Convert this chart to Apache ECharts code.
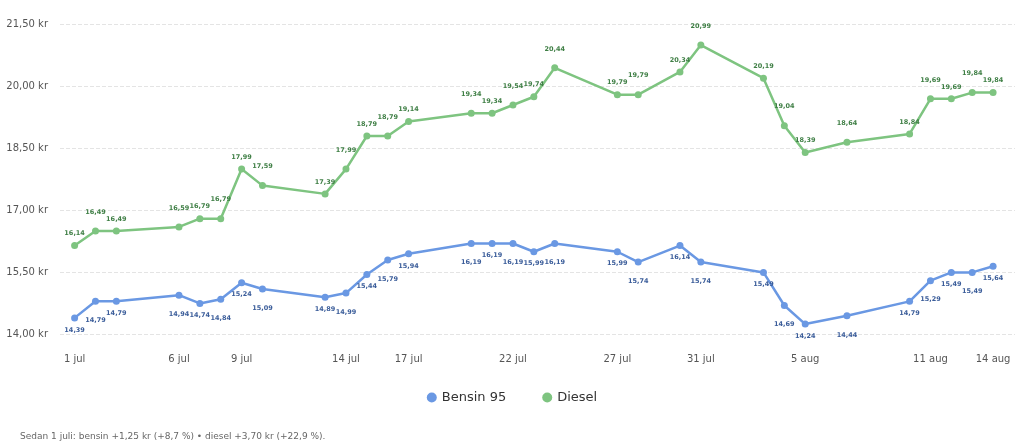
<!DOCTYPE html>
<html><head><meta charset="utf-8">
<script src="https://cdn.jsdelivr.net/npm/echarts@6/dist/echarts.min.js"></script>
<style>html,body{margin:0;padding:0;background:#fff}#c{width:1024px;height:447px}</style>
</head><body><div id="c"></div>
<script>
// day number: 1 = 1 jul, 32 = 1 aug
var days = [1,2,3,6,7,8,9,10,13,14,15,16,17,20,21,22,23,24,27,28,30,31,34,35,36,38,41,42,43,44,45];
var bensin = [14.39,14.79,14.79,14.94,14.74,14.84,15.24,15.09,14.89,14.99,15.44,15.79,15.94,16.19,16.19,16.19,15.99,16.19,15.99,15.74,16.14,15.74,15.49,14.69,14.24,14.44,14.79,15.29,15.49,15.49,15.64];
var diesel = [16.14,16.49,16.49,16.59,16.79,16.79,17.99,17.59,17.39,17.99,18.79,18.79,19.14,19.34,19.34,19.54,19.74,20.44,19.79,19.79,20.34,20.99,20.19,19.04,18.39,18.64,18.84,19.69,19.69,19.84,19.84];
var tickDays = [1,6,9,14,17,22,27,31,36,42,45];

function dayLabel(d) {
	return d <= 31 ? d + ' jul' : (d - 31) + ' aug';
}
function fmt(v) { return v.toFixed(2).replace('.', ','); }

function buildData(values, pos) {
	var out = [];
	for (var i = 0; i < values.length; i++) {
		out.push({
			value: [days[i], values[i]],
			label: { position: pos, distance: i % 2 ? 12 : 5 }
		});
	}
	return out;
}

var chart = echarts.init(document.getElementById('c'));
chart.setOption({
	animation: false,
	textStyle: { fontFamily: 'DejaVu Sans' },
	grid: { left: 60, right: 9, top: 24, bottom: 113 },
	legend: {
		bottom: 38, itemGap: 36, icon: 'circle', itemWidth: 10, itemHeight: 10,
		textStyle: { fontSize: 13, color: '#333' }
	},
	xAxis: {
		type: 'value', min: 0.3, max: 46.05,
		axisLine: { show: false }, axisTick: { show: false }, splitLine: { show: false },
		axisLabel: { customValues: tickDays, formatter: dayLabel, color: '#555', fontSize: 10, margin: 20 }
	},
	yAxis: {
		type: 'value', min: 14, max: 21.5, interval: 1.5,
		axisLine: { show: false }, axisTick: { show: false },
		axisLabel: { formatter: function (v) { return fmt(v) + ' kr'; }, color: '#555', fontSize: 10, margin: 12 },
		splitLine: { lineStyle: { type: 'dashed', color: '#e4e4e4' } }
	},
	series: [
		{
			name: 'Bensin 95', type: 'line', data: buildData(bensin, 'bottom'),
			symbol: 'circle', symbolSize: 7, color: '#6a98e3',
			lineStyle: { width: 2.5 },
			label: { show: true, fontSize: 6.5, fontWeight: 'bold', color: '#3b5d9a', formatter: function (p) { return fmt(p.value[1]); } }
		},
		{
			name: 'Diesel', type: 'line', data: buildData(diesel, 'top'),
			symbol: 'circle', symbolSize: 7, color: '#7ec480',
			lineStyle: { width: 2.5 },
			label: { show: true, fontSize: 6.5, fontWeight: 'bold', color: '#3f7f45', formatter: function (p) { return fmt(p.value[1]); } }
		}
	],
	graphic: [{
		type: 'text', left: 20, top: 432,
		style: { text: 'Sedan 1 juli: bensin +1,25 kr (+8,7 %) • diesel +3,70 kr (+22,9 %).', fill: '#666', fontSize: 9, fontFamily: 'DejaVu Sans' }
	}]
});
</script></body></html>
